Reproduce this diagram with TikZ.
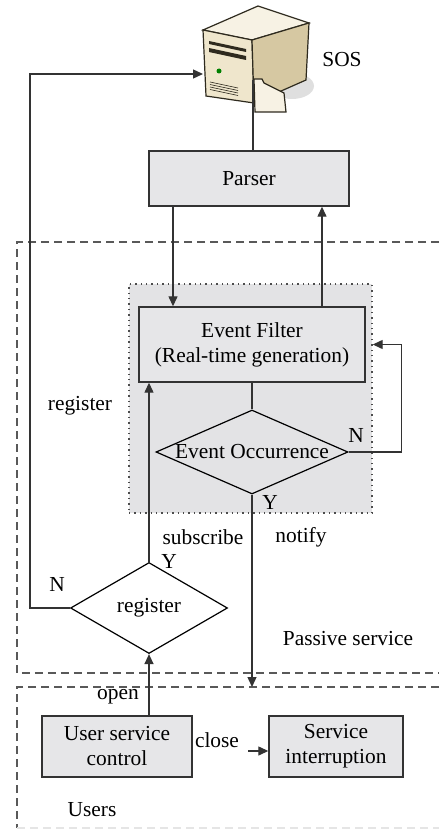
\documentclass[tikz,border=0pt]{standalone}
\usepackage{fontspec}
\setmainfont{Liberation Serif}
\usetikzlibrary{arrows.meta,positioning,shapes.geometric}
\definecolor{boxgray}{HTML}{E6E6E8}
\definecolor{zonegray}{HTML}{E3E3E5}
\definecolor{linegray}{HTML}{333333}
\definecolor{srvfront}{HTML}{EFE6CC}
\definecolor{srvside}{HTML}{D6C8A2}
\definecolor{srvtop}{HTML}{F7F2E4}
\definecolor{srvedge}{HTML}{2E2A1E}
\tikzset{
    %Define standard arrow tip
    >={Triangle[length=5pt,width=4.5pt]},
    %Define style for boxes
    gbox/.style={
           rectangle,
           draw=linegray, line width=0.7pt,
           fill=boxgray,
           inner sep=0pt,
           align=center},
    dec/.style={
           diamond,
           draw=black, line width=0.6pt,
           inner sep=0pt,
           align=center},
    % Define arrow style
    arr/.style={
           ->,
           line width=0.65pt,
           draw=linegray},
    wire/.style={
           line width=0.65pt,
           draw=linegray},
    region/.style={
           dash pattern=on 4pt off 2.5pt,
           line width=0.7pt,
           draw=gray!70!black}
}

\begin{document}
\begin{tikzpicture}[x=0.5pt, y=-0.5pt, font=\fontsize{10.7}{12.5}\selectfont]
    \useasboundingbox (0,0) rectangle (439,829);

    % SERVER
    \fill[gray!25] (292,86) ellipse (22 and 13);
    \filldraw[fill=srvtop, draw=srvedge, line width=0.6pt]
        (203,30) -- (258,6) -- (309,23) -- (252,40) -- cycle;
    \filldraw[fill=srvfront, draw=srvedge, line width=0.6pt]
        (203,30) -- (252,40) -- (254,103) -- (206,96) -- cycle;
    \filldraw[fill=srvside, draw=srvedge, line width=0.6pt]
        (252,40) -- (309,23) -- (306,80) -- (254,103) -- cycle;
    \fill[srvedge] (209,41) -- (246,49) -- (246,52) -- (209,44) -- cycle;
    \fill[srvedge] (209,48) -- (246,56) -- (246,60) -- (209,52) -- cycle;
    \fill[green!50!black] (219,71) circle (2.5);
    \foreach \k in {0,1,2,3}
        \draw[srvedge, line width=0.3pt] (210,82+2.5*\k) -- (238,88+2.5*\k);
    \filldraw[fill=srvtop, draw=srvedge, line width=0.6pt]
        (254,79) -- (262,79) -- (264,83) -- (284,93) -- (286,112) -- (255,112) -- cycle;
    \coordinate (srvin) at (203,74);
    \coordinate (srvport) at (253,80);
    \node at (342,60) (sos) {SOS};

    % REGIONS
    \draw[region] (439,242) -- (17,242) -- (17,673) -- (439,673);
    \draw[region] (439,687) -- (17,687) -- (17,828);
    \draw[region, draw=gray!20] (17,828) -- (439,828);
    \coordinate (usertop) at (252,687);

    \node[draw=gray!60!black, dotted, line width=0.7pt, fill=zonegray,
          minimum width=121.5pt, minimum height=114.5pt] at (250.5,398.5) (zone) {};

    % BOXES
    \node[gbox, minimum width=100pt, minimum height=27.5pt] at (249,178.5) (parser) {Parser};
    \node[gbox, minimum width=113pt, minimum height=37.5pt] at (252,344.5) (filter)
        {Event Filter\\(Real-time generation)};
    \node[dec, aspect=2.3, minimum width=96pt, minimum height=42pt] at (252,452) (occ)
        {Event Occurrence};
    \node[dec, aspect=1.7, minimum width=78.5pt, minimum height=45.5pt] at (149,608) (reg)
        {register};
    \node[gbox, minimum width=75pt, minimum height=30.5pt] at (117,746.5) (usc)
        {User service\\control};
    \node[gbox, minimum width=67pt, minimum height=30.5pt] at (336,746.5) (sint)
        {Service\\interruption};

    % CONNECTIONS
    \draw[wire] ([xshift=2pt]parser.north) -- (srvport);
    \draw[arr] ([xshift=-38pt]parser.south) -- ([xshift=-38pt]parser.south |- filter.north);
    \draw[arr] ([xshift=36.5pt]parser.south |- filter.north) -- ([xshift=36.5pt]parser.south);
    \draw[wire] (filter.south) -- (occ.north);
    \draw[arr] (occ.east) -- ++(26.5pt,0) |- (zone.east |- filter.east);
    \draw[arr] (occ.south) -- (usertop);
    \draw[arr] (reg.north) -- (reg.north |- filter.south);
    \draw[arr] (reg.west) -- ++(-20pt,0) |- (srvin);
    \draw[arr] ([xshift=16pt]usc.north) -- ([xshift=16pt]usc.north |- reg.south);

    % LABELS
    \node at (80,406) (reglbl) {register};
    \node at (356,435) (occn) {N};
    \node at (270,502) (occy) {Y};
    \node at (203,537) (sublbl) {subscribe};
    \node at (301,537) (notlbl) {notify};
    \node at (169,561) (regy) {Y};
    \node at (57,584) (regn) {N};
    \node at (348,639) (passive) {Passive service};
    \node at (118,697) (openlbl) {open};
    \node at (217,740) (closelbl) {close};
    \node at (92,810) (users) {Users};

    \draw[arr] ([yshift=-5.5pt,xshift=1pt]closelbl.east) -- ([yshift=-5.5pt]closelbl.east -| sint.west);
\end{tikzpicture}
\end{document}
